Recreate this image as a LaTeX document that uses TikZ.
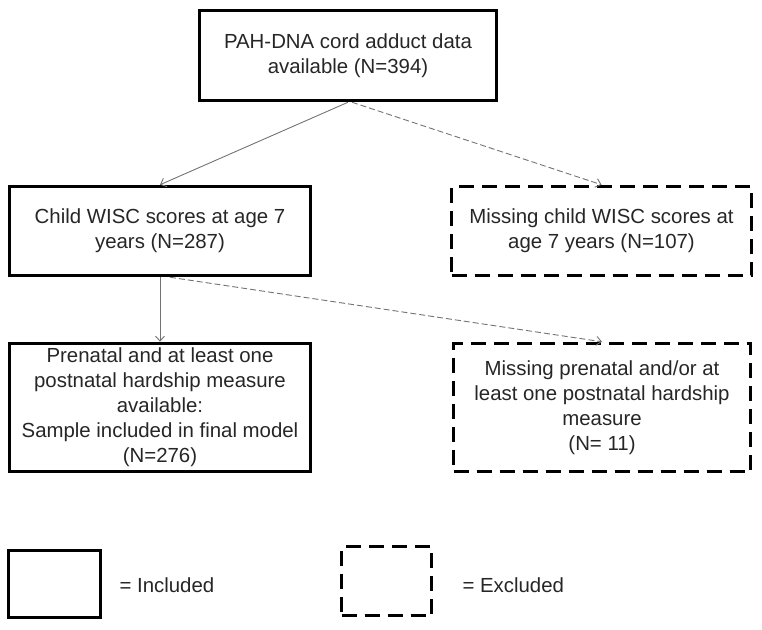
\documentclass[tikz,border=0pt]{standalone}
\usepackage{fontspec}
\setmainfont{Liberation Sans}
\usetikzlibrary{arrows.meta}

\begin{document}
\begin{tikzpicture}[x=1pt,y=-1pt,font=\fontsize{20.4}{25}\selectfont,text=black!85]

      \useasboundingbox (0,0) rectangle (762,629);

      \begin{scope}[every node/.style={draw,line width=3.5pt,align=center,inner sep=0pt}]
        \node[minimum width=297pt,minimum height=90pt] (data) at (348,55.5) {PAH-DNA cord adduct data\\available (N=394)};
        \node[minimum width=301pt,minimum height=89pt] (wisc) at (160,231) {Child WISC scores at age 7\\years (N=287)};
        \node[minimum width=301pt,minimum height=128pt] (sample) at (160,407.5) {Prenatal and at least one\\postnatal hardship measure\\available:\\Sample included in final model\\(N=276)};
        \node[minimum width=92pt,minimum height=67pt] (incl) at (54.5,584) {};
      \end{scope}

      \begin{scope}[every node/.style={draw,line width=3.5pt,dash pattern=on 15pt off 8pt,align=center,inner sep=0pt}]
        \node[minimum width=300pt,minimum height=89pt] (nowisc) at (601.5,231) {Missing child WISC scores at\\age 7 years (N=107)};
        \node[minimum width=297pt,minimum height=128pt] (nohard) at (602,407.5) {Missing prenatal and/or at\\least one postnatal hardship\\measure\\(N= 11)};
        \node[minimum width=90pt,minimum height=69pt] (excl) at (386.5,581) {};
      \end{scope}

      \node[anchor=west] (incltext) at (116,585) {= Included};
      \node[anchor=west] (excltext) at (459,585) {= Excluded};

      \begin{scope}[every edge/.style={draw,black!55,line width=0.9pt,-{Straight Barb[length=5pt,width=9pt]}}]
        \path (data.south) edge (wisc.north);
        \path (wisc.south) edge (sample.north);
      \end{scope}

      \begin{scope}[every edge/.style={draw,black!55,line width=0.9pt,dash pattern=on 6pt off 3pt,-{Straight Barb[length=5pt,width=9pt]}}]
        \path ([xshift=4pt]data.south) edge (nowisc.north);
        \path ([xshift=10pt]wisc.south) edge (nohard.north);
      \end{scope}

    \end{tikzpicture}
\end{document}
